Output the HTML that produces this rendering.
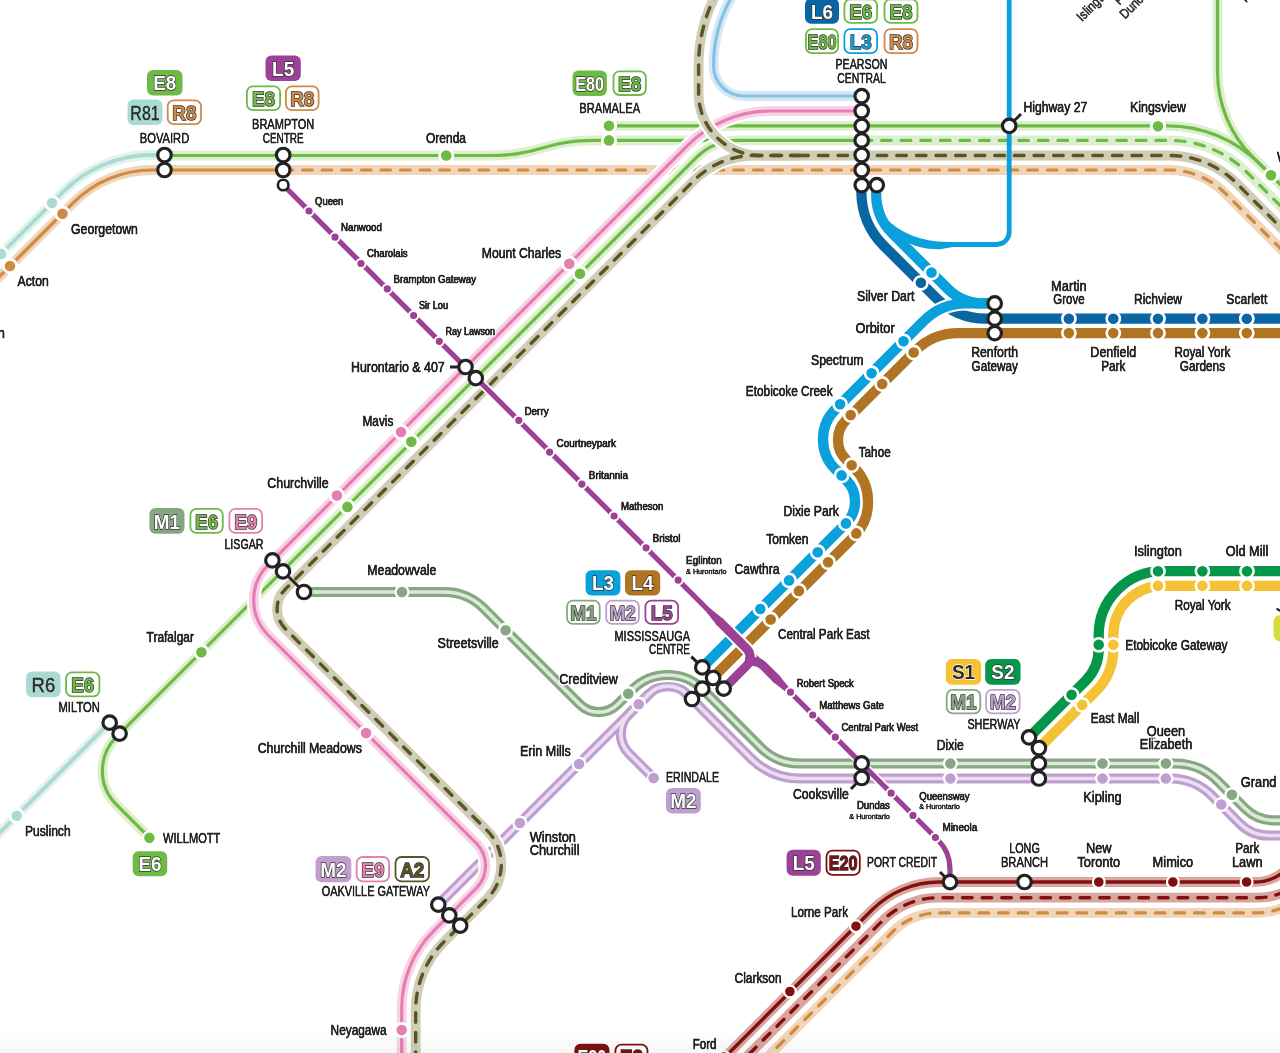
<!DOCTYPE html>
<html><head><meta charset="utf-8"><title>Transit map</title>
<style>
html,body{margin:0;padding:0;background:#fff;overflow:hidden;}
svg{display:block;will-change:transform;font-family:"Liberation Sans",sans-serif;}
</style></head><body>
<svg width="1280" height="1053" viewBox="0 0 1280 1053">
<defs><linearGradient id="bg" x1="0" y1="0" x2="0" y2="1"><stop offset="0" stop-color="#000" stop-opacity="0"/><stop offset="1" stop-color="#000" stop-opacity="0.035"/></linearGradient></defs>
<rect width="1280" height="1053" fill="#fff"/>
<g stroke-linecap="butt" stroke-linejoin="round" fill="none">
<path d="M736,-10 A137,137 0 0 0 713.6,65 L713.6,65 L713.6,66 A30,30 0 0 0 743.6,96 L862,96" stroke="#fff" stroke-width="14" fill="none"/>
<path d="M736,-10 A137,137 0 0 0 713.6,65 L713.6,65 L713.6,66 A30,30 0 0 0 743.6,96 L862,96" stroke="#d4e9f5" stroke-width="9.8" fill="none"/>
<path d="M736,-10 A137,137 0 0 0 713.6,65 L713.6,65 L713.6,66 A30,30 0 0 0 743.6,96 L862,96" stroke="#86c1e4" stroke-width="3.2" fill="none"/>
<path d="M-60,336 L73.2,202.8 A112,112 0 0 1 152.39,170 L290,170" stroke="#fff" stroke-width="14" fill="none"/>
<path d="M-60,336 L73.2,202.8 A112,112 0 0 1 152.39,170 L290,170" stroke="#f0d5b8" stroke-width="9.8" fill="none"/>
<path d="M-60,336 L73.2,202.8 A112,112 0 0 1 152.39,170 L290,170" stroke="#cf8a44" stroke-width="3.2" fill="none"/>
<path d="M283,170 L1168.86,170 A80,80 0 0 1 1225.43,193.43 L1320,288" stroke="#fff" stroke-width="14" fill="none"/>
<path d="M283,170 L1168.86,170 A80,80 0 0 1 1225.43,193.43 L1320,288" stroke="#f0d5b8" stroke-width="9.8" fill="none"/>
<path d="M283,170 L1168.86,170 A80,80 0 0 1 1225.43,193.43 L1320,288" stroke="#cf8a44" stroke-width="3.2" fill="none" stroke-dasharray="9.6 10" stroke-linecap="round"/>
<path d="M-60,315 L63.39,191.61 A125,125 0 0 1 151.78,155 L165,155" stroke="#fff" stroke-width="14" fill="none"/>
<path d="M-60,315 L63.39,191.61 A125,125 0 0 1 151.78,155 L165,155" stroke="#e2f2ee" stroke-width="9.8" fill="none"/>
<path d="M-60,315 L63.39,191.61 A125,125 0 0 1 151.78,155 L165,155" stroke="#aadbd2" stroke-width="3.8" fill="none"/>
<path d="M109.7,722.7 L-60,892.4" stroke="#fff" stroke-width="14" fill="none"/>
<path d="M109.7,722.7 L-60,892.4" stroke="#e2f2ee" stroke-width="9.8" fill="none"/>
<path d="M109.7,722.7 L-60,892.4" stroke="#aadbd2" stroke-width="3.8" fill="none"/>
<path d="M740,155.5 L1169.45,155.5 A95,95 0 0 1 1236.62,183.32 L1320,266.7" stroke="#fff" stroke-width="14" fill="none"/>
<path d="M740,155.5 L1169.45,155.5 A95,95 0 0 1 1236.62,183.32 L1320,266.7" stroke="#cecdb6" stroke-width="9.8" fill="none"/>
<path d="M740,155.5 L1169.45,155.5 A95,95 0 0 1 1236.62,183.32 L1320,266.7" stroke="#5c5425" stroke-width="3.4" fill="none" stroke-dasharray="9.6 10" stroke-linecap="round"/>
<path d="M862,140.4 L1169.44,140.4 A110,110 0 0 1 1247.22,172.62 L1320,245.4" stroke="#fff" stroke-width="14" fill="none"/>
<path d="M862,140.4 L1169.44,140.4 A110,110 0 0 1 1247.22,172.62 L1320,245.4" stroke="#dcefcf" stroke-width="9.8" fill="none"/>
<path d="M862,140.4 L1169.44,140.4 A110,110 0 0 1 1247.22,172.62 L1320,245.4" stroke="#6dbb45" stroke-width="3.2" fill="none" stroke-dasharray="9.6 10" stroke-linecap="round"/>
<path d="M165,155.5 L490,155.5 C540,155.5 545,140.4 595,140.4 L862,140.4" stroke="#fff" stroke-width="14" fill="none"/>
<path d="M165,155.5 L490,155.5 C540,155.5 545,140.4 595,140.4 L862,140.4" stroke="#dcefcf" stroke-width="9.8" fill="none"/>
<path d="M165,155.5 L490,155.5 C540,155.5 545,140.4 595,140.4 L862,140.4" stroke="#6dbb45" stroke-width="3.2" fill="none"/>
<path d="M609,125.8 L1167.85,125.8 A130,130 0 0 1 1259.78,163.88 L1320,224.1" stroke="#fff" stroke-width="14" fill="none"/>
<path d="M1217.5,-10 L1217.5,72.09 A120,120 0 0 0 1252.65,156.95 L1300,204.3" stroke="#fff" stroke-width="14" fill="none"/>
<path d="M609,125.8 L1167.85,125.8 A130,130 0 0 1 1259.78,163.88 L1320,224.1" stroke="#dcefcf" stroke-width="9.8" fill="none"/>
<path d="M1217.5,-10 L1217.5,72.09 A120,120 0 0 0 1252.65,156.95 L1300,204.3" stroke="#dcefcf" stroke-width="9.8" fill="none"/>
<path d="M609,125.8 L1167.85,125.8 A130,130 0 0 1 1259.78,163.88 L1320,224.1" stroke="#6dbb45" stroke-width="3.2" fill="none"/>
<path d="M1217.5,-10 L1217.5,72.09 A120,120 0 0 0 1252.65,156.95 L1300,204.3" stroke="#6dbb45" stroke-width="3.2" fill="none"/>
<path d="M790,140.4 L738.33,140.4 A60,60 0 0 0 695.93,157.95 L116.46,736.82 A48,48 0 0 0 116.43,804.71 L149.4,837.7" stroke="#fff" stroke-width="14" fill="none"/>
<path d="M790,140.4 L738.33,140.4 A60,60 0 0 0 695.93,157.95 L116.46,736.82 A48,48 0 0 0 116.43,804.71 L149.4,837.7" stroke="#dcefcf" stroke-width="9.8" fill="none"/>
<path d="M790,140.4 L738.33,140.4 A60,60 0 0 0 695.93,157.95 L116.46,736.82 A48,48 0 0 0 116.43,804.71 L149.4,837.7" stroke="#6dbb45" stroke-width="3.2" fill="none"/>
</g>
<g stroke-linecap="butt" stroke-linejoin="round" fill="none">
<path d="M650,693 L629.05,713.95 A28,28 0 0 0 629.05,753.55 L653.6,778.1" stroke="#fff" stroke-width="14" fill="none"/>
<path d="M438.3,904.6 L648.86,694.13 A27,27 0 0 1 687.09,694.18 L750.48,757.88 A70,70 0 0 0 800.09,778.5 L1169.95,778.5 A60,60 0 0 1 1212.37,796.07 L1240.08,823.78 A40,40 0 0 0 1268.37,835.5 L1300,835.5" stroke="#fff" stroke-width="14" fill="none"/>
<path d="M650,693 L629.05,713.95 A28,28 0 0 0 629.05,753.55 L653.6,778.1" stroke="#c09ecf" stroke-width="10.2" fill="none"/>
<path d="M438.3,904.6 L648.86,694.13 A27,27 0 0 1 687.09,694.18 L750.48,757.88 A70,70 0 0 0 800.09,778.5 L1169.95,778.5 A60,60 0 0 1 1212.37,796.07 L1240.08,823.78 A40,40 0 0 0 1268.37,835.5 L1300,835.5" stroke="#c09ecf" stroke-width="10.2" fill="none"/>
<path d="M650,693 L629.05,713.95 A28,28 0 0 0 629.05,753.55 L653.6,778.1" stroke="#eadff0" stroke-width="3.7" fill="none"/>
<path d="M438.3,904.6 L648.86,694.13 A27,27 0 0 1 687.09,694.18 L750.48,757.88 A70,70 0 0 0 800.09,778.5 L1169.95,778.5 A60,60 0 0 1 1212.37,796.07 L1240.08,823.78 A40,40 0 0 0 1268.37,835.5 L1300,835.5" stroke="#eadff0" stroke-width="3.7" fill="none"/>
<path d="M304,592 L444.2,592 A56,56 0 0 1 483.8,608.4 L579.61,704.21 A27,27 0 0 0 617.79,704.21 L632.36,689.64 A50,50 0 0 1 703.16,689.72 L760.48,747.3 A55,55 0 0 0 799.46,763.5 L1174.83,763.5 A61,61 0 0 1 1217.97,781.37 L1245.28,808.68 A40,40 0 0 0 1273.57,820.4 L1300,820.4" stroke="#fff" stroke-width="14" fill="none"/>
<path d="M304,592 L444.2,592 A56,56 0 0 1 483.8,608.4 L579.61,704.21 A27,27 0 0 0 617.79,704.21 L632.36,689.64 A50,50 0 0 1 703.16,689.72 L760.48,747.3 A55,55 0 0 0 799.46,763.5 L1174.83,763.5 A61,61 0 0 1 1217.97,781.37 L1245.28,808.68 A40,40 0 0 0 1273.57,820.4 L1300,820.4" stroke="#85a880" stroke-width="10.2" fill="none"/>
<path d="M304,592 L444.2,592 A56,56 0 0 1 483.8,608.4 L579.61,704.21 A27,27 0 0 0 617.79,704.21 L632.36,689.64 A50,50 0 0 1 703.16,689.72 L760.48,747.3 A55,55 0 0 0 799.46,763.5 L1174.83,763.5 A61,61 0 0 1 1217.97,781.37 L1245.28,808.68 A40,40 0 0 0 1273.57,820.4 L1300,820.4" stroke="#dce8d9" stroke-width="3.7" fill="none"/>
</g>
<g stroke-linecap="butt" stroke-linejoin="round" fill="none">
<path d="M862,111 L770.88,111 A118,118 0 0 0 687.44,145.56 L268.36,564.64 A50,50 0 0 0 268.36,635.36 L476.17,843.17 A32,32 0 0 1 476.17,888.43 L433.92,930.68 A110,110 0 0 0 401.7,1008.46 L401.7,1080" stroke="#fff" stroke-width="14" fill="none"/>
<path d="M862,111 L770.88,111 A118,118 0 0 0 687.44,145.56 L268.36,564.64 A50,50 0 0 0 268.36,635.36 L476.17,843.17 A32,32 0 0 1 476.17,888.43 L433.92,930.68 A110,110 0 0 0 401.7,1008.46 L401.7,1080" stroke="#f8d3e5" stroke-width="9.8" fill="none"/>
<path d="M862,111 L770.88,111 A118,118 0 0 0 687.44,145.56 L268.36,564.64 A50,50 0 0 0 268.36,635.36 L476.17,843.17 A32,32 0 0 1 476.17,888.43 L433.92,930.68 A110,110 0 0 0 401.7,1008.46 L401.7,1080" stroke="#e57fb2" stroke-width="3.2" fill="none"/>
<path d="M718.4,-10 A152,152 0 0 0 698.6,65 L698.6,65 L698.6,93.5 A62,62 0 0 0 760.6,155.5 L800,155.5" stroke="#fff" stroke-width="14" fill="none"/>
<path d="M800,155.5 L754.21,155.5 A85,85 0 0 0 694.1,180.4 L285.3,589.2 A28,28 0 0 0 285.31,628.8 L487.25,830.66 A48,48 0 0 1 487.25,898.55 L443.82,941.98 A96,96 0 0 0 415.7,1009.86 L415.7,1080" stroke="#fff" stroke-width="14" fill="none"/>
<path d="M718.4,-10 A152,152 0 0 0 698.6,65 L698.6,65 L698.6,93.5 A62,62 0 0 0 760.6,155.5 L800,155.5" stroke="#cecdb6" stroke-width="9.8" fill="none"/>
<path d="M800,155.5 L754.21,155.5 A85,85 0 0 0 694.1,180.4 L285.3,589.2 A28,28 0 0 0 285.31,628.8 L487.25,830.66 A48,48 0 0 1 487.25,898.55 L443.82,941.98 A96,96 0 0 0 415.7,1009.86 L415.7,1080" stroke="#cecdb6" stroke-width="9.8" fill="none"/>
<path d="M718.4,-10 A152,152 0 0 0 698.6,65 L698.6,65 L698.6,93.5 A62,62 0 0 0 760.6,155.5 L800,155.5" stroke="#5c5425" stroke-width="3.4" fill="none" stroke-dasharray="9.6 10" stroke-linecap="round"/>
<path d="M800,155.5 L754.21,155.5 A85,85 0 0 0 694.1,180.4 L285.3,589.2 A28,28 0 0 0 285.31,628.8 L487.25,830.66 A48,48 0 0 1 487.25,898.55 L443.82,941.98 A96,96 0 0 0 415.7,1009.86 L415.7,1080" stroke="#5c5425" stroke-width="3.4" fill="none" stroke-dasharray="9.6 10" stroke-linecap="round"/>
<path d="M680,1102 L872.18,909.82 A95,95 0 0 1 939.35,882 L1254.96,882 A45,45 0 0 0 1286.78,868.82 L1330,825.6" stroke="#fff" stroke-width="14" fill="none"/>
<path d="M680,1102 L872.18,909.82 A95,95 0 0 1 939.35,882 L1254.96,882 A45,45 0 0 0 1286.78,868.82 L1330,825.6" stroke="#d9a69e" stroke-width="9.8" fill="none"/>
<path d="M680,1102 L872.18,909.82 A95,95 0 0 1 939.35,882 L1254.96,882 A45,45 0 0 0 1286.78,868.82 L1330,825.6" stroke="#80100f" stroke-width="3.4" fill="none"/>
<path d="M680,1123.2 L882.07,921.13 A80,80 0 0 1 938.64,897.7 L1257.95,897.7 A60,60 0 0 0 1300.37,880.13 L1345,835.5" stroke="#fff" stroke-width="14" fill="none"/>
<path d="M680,1123.2 L882.07,921.13 A80,80 0 0 1 938.64,897.7 L1257.95,897.7 A60,60 0 0 0 1300.37,880.13 L1345,835.5" stroke="#d9a69e" stroke-width="9.8" fill="none"/>
<path d="M680,1123.2 L882.07,921.13 A80,80 0 0 1 938.64,897.7 L1257.95,897.7 A60,60 0 0 0 1300.37,880.13 L1345,835.5" stroke="#80100f" stroke-width="3.4" fill="none" stroke-dasharray="9.6 10" stroke-linecap="round"/>
<path d="M680,1144.4 L892.46,931.94 A65,65 0 0 1 938.42,912.9 L1255.53,912.9 A75,75 0 0 0 1308.57,890.93 L1360,839.5" stroke="#fff" stroke-width="14" fill="none"/>
<path d="M680,1144.4 L892.46,931.94 A65,65 0 0 1 938.42,912.9 L1255.53,912.9 A75,75 0 0 0 1308.57,890.93 L1360,839.5" stroke="#f0d5b8" stroke-width="9.8" fill="none"/>
<path d="M680,1144.4 L892.46,931.94 A65,65 0 0 1 938.42,912.9 L1255.53,912.9 A75,75 0 0 0 1308.57,890.93 L1360,839.5" stroke="#cf8a44" stroke-width="3.2" fill="none" stroke-dasharray="9.6 10" stroke-linecap="round"/>
</g>
<g stroke-linecap="butt" stroke-linejoin="round" fill="none">
<path d="M861.4,185.4 L861.4,192.23 A75,75 0 0 0 883.37,245.27 L936.3,298.2 A70,70 0 0 0 985.79,318.7 L1300,318.7" stroke="#0a66a2" stroke-width="10.3" fill="none"/>
<path d="M1300,333.1 L957.95,333.1 A60,60 0 0 0 915.53,350.67 L845.91,420.29 A27,27 0 0 0 838,439.38 L838,440.32 A27,27 0 0 0 845.91,459.41 L853.94,467.44 A48,48 0 0 1 868,501.38 L868,502.62 A48,48 0 0 1 853.94,536.56 L713.1,677.4" stroke="#fff" stroke-width="14.3" fill="none"/>
<path d="M1300,333.1 L957.95,333.1 A60,60 0 0 0 915.53,350.67 L845.91,420.29 A27,27 0 0 0 838,439.38 L838,440.32 A27,27 0 0 0 845.91,459.41 L853.94,467.44 A48,48 0 0 1 868,501.38 L868,502.62 A48,48 0 0 1 853.94,536.56 L713.1,677.4" stroke="#b07422" stroke-width="10.3" fill="none"/>
<path d="M876.2,185.4 L876.2,194.52 A55,55 0 0 0 892.31,233.41 L947.66,288.76 A50,50 0 0 0 983.01,303.4 L994.7,303.4" stroke="#fff" stroke-width="14.3" fill="none"/>
<path d="M994.7,303.4 L966.25,303.4 A60,60 0 0 0 923.83,320.97 L835.3,409.5 A42,42 0 0 0 823,439.2 L823,439.4 A42,42 0 0 0 835.3,469.1 L846.21,480.01 A30,30 0 0 1 855,501.23 L855,501.9 A30,30 0 0 1 846.24,523.08 L702.3,667.4" stroke="#fff" stroke-width="14.3" fill="none"/>
<path d="M1009.2,-10 L1009.2,232 A12.6,12.6 0 0 1 996.6,244.5 L950,244.5" stroke="#0aa0dc" stroke-width="4.8" fill="none"/>
<path d="M953,242.1 C925,242.1 905,236 886,219 L900,238 C912,247 928,249.5 940,249.2 L953,246.9 Z" fill="#0aa0dc" stroke="none"/>
<path d="M876.2,185.4 L876.2,194.52 A55,55 0 0 0 892.31,233.41 L947.66,288.76 A50,50 0 0 0 983.01,303.4 L994.7,303.4" stroke="#0aa0dc" stroke-width="10.3" fill="none"/>
<path d="M994.7,303.4 L966.25,303.4 A60,60 0 0 0 923.83,320.97 L835.3,409.5 A42,42 0 0 0 823,439.2 L823,439.4 A42,42 0 0 0 835.3,469.1 L846.21,480.01 A30,30 0 0 1 855,501.23 L855,501.9 A30,30 0 0 1 846.24,523.08 L702.3,667.4" stroke="#0aa0dc" stroke-width="10.3" fill="none"/>
<path d="M283.2,185 L938,839.99 A41,41 0 0 1 950,868.98 L950,882" stroke="#fff" stroke-width="8.5" fill="none"/>
<path d="M283.2,185 L938,839.99 A41,41 0 0 1 950,868.98 L950,882" stroke="#9b4196" stroke-width="5.2" fill="none"/>
<path d="M719,621 L746.71,648.71 A12,12 0 0 1 746.71,665.69 L723.7,688.7" stroke="#fff" stroke-width="13" fill="none"/>
<path d="M719,621 L746.71,648.71 A12,12 0 0 1 746.71,665.69 L723.7,688.7" stroke="#9b4196" stroke-width="9" fill="none"/>
<path d="M745,661.5 L753.2,661.5 A14,14 0 0 1 763.1,665.6 L777,679.5" stroke="#9b4196" stroke-width="9" fill="none"/>
<path d="M706.16,611.84 L716.82,625.18 L723.18,618.82 L709.84,608.16 Z" fill="#9b4196"/>
<path d="M772.82,681.68 L786.16,692.34 L789.84,688.66 L779.18,675.32 Z" fill="#9b4196"/>
<path d="M1029,737.3 L1085.5,680.88 A45,45 0 0 0 1098.7,649.04 L1098.7,635.2 A64,64 0 0 1 1162.7,571.2 L1300,571.2" stroke="#fff" stroke-width="14.3" fill="none"/>
<path d="M1029,737.3 L1085.5,680.88 A45,45 0 0 0 1098.7,649.04 L1098.7,635.2 A64,64 0 0 1 1162.7,571.2 L1300,571.2" stroke="#05964a" stroke-width="10.3" fill="none"/>
<path d="M1038.9,748 L1095.67,691.38 A60,60 0 0 0 1113.3,648.9 L1113.3,634.8 A49,49 0 0 1 1162.3,585.8 L1300,585.8" stroke="#fff" stroke-width="14.3" fill="none"/>
<path d="M1038.9,748 L1095.67,691.38 A60,60 0 0 0 1113.3,648.9 L1113.3,634.8 A49,49 0 0 1 1162.3,585.8 L1300,585.8" stroke="#f5c235" stroke-width="10.3" fill="none"/>
</g>
<circle cx="52" cy="203" r="6.7" fill="#aadbd2" stroke="#fff" stroke-width="2.8"/>
<circle cx="1" cy="254" r="6.7" fill="#aadbd2" stroke="#fff" stroke-width="2.8"/>
<circle cx="16.7" cy="815.7" r="6.7" fill="#aadbd2" stroke="#fff" stroke-width="2.8"/>
<circle cx="62.5" cy="213.75" r="6.7" fill="#cf8a44" stroke="#fff" stroke-width="2.8"/>
<circle cx="10" cy="266" r="6.7" fill="#cf8a44" stroke="#fff" stroke-width="2.8"/>
<circle cx="446.25" cy="155.5" r="6.7" fill="#6dbb45" stroke="#fff" stroke-width="2.8"/>
<circle cx="609" cy="125.8" r="6.7" fill="#6dbb45" stroke="#fff" stroke-width="2.8"/>
<circle cx="609" cy="140.4" r="6.7" fill="#6dbb45" stroke="#fff" stroke-width="2.8"/>
<circle cx="580" cy="273.75" r="6.7" fill="#6dbb45" stroke="#fff" stroke-width="2.8"/>
<circle cx="411.3" cy="441.8" r="6.7" fill="#6dbb45" stroke="#fff" stroke-width="2.8"/>
<circle cx="347.4" cy="506.9" r="6.7" fill="#6dbb45" stroke="#fff" stroke-width="2.8"/>
<circle cx="201.4" cy="652.2" r="6.7" fill="#6dbb45" stroke="#fff" stroke-width="2.8"/>
<circle cx="1158" cy="126.2" r="6.7" fill="#6dbb45" stroke="#fff" stroke-width="2.8"/>
<circle cx="1271" cy="175.3" r="6.7" fill="#6dbb45" stroke="#fff" stroke-width="2.8"/>
<circle cx="149.4" cy="837.7" r="6.2" fill="#6dbb45" stroke="#fff" stroke-width="2"/>
<circle cx="569.25" cy="263.75" r="6.7" fill="#e57fb2" stroke="#fff" stroke-width="2.8"/>
<circle cx="401" cy="432" r="6.7" fill="#e57fb2" stroke="#fff" stroke-width="2.8"/>
<circle cx="336.9" cy="495.6" r="6.7" fill="#e57fb2" stroke="#fff" stroke-width="2.8"/>
<circle cx="366.1" cy="733" r="6.7" fill="#e57fb2" stroke="#fff" stroke-width="2.8"/>
<circle cx="401.7" cy="1030.1" r="6.7" fill="#e57fb2" stroke="#fff" stroke-width="2.8"/>
<circle cx="309" cy="211" r="4.6" fill="#9b4196" stroke="#fff" stroke-width="2"/>
<circle cx="335" cy="237.2" r="4.6" fill="#9b4196" stroke="#fff" stroke-width="2"/>
<circle cx="361" cy="263.5" r="4.6" fill="#9b4196" stroke="#fff" stroke-width="2"/>
<circle cx="387.3" cy="288.8" r="4.6" fill="#9b4196" stroke="#fff" stroke-width="2"/>
<circle cx="413.6" cy="315.5" r="4.6" fill="#9b4196" stroke="#fff" stroke-width="2"/>
<circle cx="439.3" cy="341.3" r="4.6" fill="#9b4196" stroke="#fff" stroke-width="2"/>
<circle cx="518.8" cy="420.3" r="4.6" fill="#9b4196" stroke="#fff" stroke-width="2"/>
<circle cx="549.6" cy="452.1" r="4.6" fill="#9b4196" stroke="#fff" stroke-width="2"/>
<circle cx="581.9" cy="484.1" r="4.6" fill="#9b4196" stroke="#fff" stroke-width="2"/>
<circle cx="614.1" cy="516" r="4.6" fill="#9b4196" stroke="#fff" stroke-width="2"/>
<circle cx="646.1" cy="547.8" r="4.6" fill="#9b4196" stroke="#fff" stroke-width="2"/>
<circle cx="678.2" cy="580.1" r="4.6" fill="#9b4196" stroke="#fff" stroke-width="2"/>
<circle cx="790.5" cy="692.2" r="4.6" fill="#9b4196" stroke="#fff" stroke-width="2"/>
<circle cx="812.7" cy="715" r="4.6" fill="#9b4196" stroke="#fff" stroke-width="2"/>
<circle cx="835.3" cy="737.2" r="4.6" fill="#9b4196" stroke="#fff" stroke-width="2"/>
<circle cx="891.1" cy="793.2" r="4.6" fill="#9b4196" stroke="#fff" stroke-width="2"/>
<circle cx="913" cy="815.4" r="4.6" fill="#9b4196" stroke="#fff" stroke-width="2"/>
<circle cx="935.4" cy="837.5" r="4.6" fill="#9b4196" stroke="#fff" stroke-width="2"/>
<circle cx="931.5" cy="272.6" r="6.6" fill="#0aa0dc" stroke="#fff" stroke-width="2.6"/>
<circle cx="903.5" cy="341.3" r="6.6" fill="#0aa0dc" stroke="#fff" stroke-width="2.6"/>
<circle cx="871.6" cy="373.2" r="6.6" fill="#0aa0dc" stroke="#fff" stroke-width="2.6"/>
<circle cx="840.1" cy="404.3" r="6.6" fill="#0aa0dc" stroke="#fff" stroke-width="2.6"/>
<circle cx="841.6" cy="475.4" r="6.6" fill="#0aa0dc" stroke="#fff" stroke-width="2.6"/>
<circle cx="845.9" cy="523.4" r="6.6" fill="#0aa0dc" stroke="#fff" stroke-width="2.6"/>
<circle cx="817.7" cy="552.2" r="6.6" fill="#0aa0dc" stroke="#fff" stroke-width="2.6"/>
<circle cx="789.1" cy="580.4" r="6.6" fill="#0aa0dc" stroke="#fff" stroke-width="2.6"/>
<circle cx="760.3" cy="609" r="6.6" fill="#0aa0dc" stroke="#fff" stroke-width="2.6"/>
<circle cx="913.7" cy="352.5" r="6.6" fill="#b07422" stroke="#fff" stroke-width="2.6"/>
<circle cx="882.2" cy="384" r="6.6" fill="#b07422" stroke="#fff" stroke-width="2.6"/>
<circle cx="850.7" cy="415" r="6.6" fill="#b07422" stroke="#fff" stroke-width="2.6"/>
<circle cx="851.7" cy="465.2" r="6.6" fill="#b07422" stroke="#fff" stroke-width="2.6"/>
<circle cx="856.3" cy="533.4" r="6.6" fill="#b07422" stroke="#fff" stroke-width="2.6"/>
<circle cx="828.1" cy="562.2" r="6.6" fill="#b07422" stroke="#fff" stroke-width="2.6"/>
<circle cx="798.9" cy="590.9" r="6.6" fill="#b07422" stroke="#fff" stroke-width="2.6"/>
<circle cx="770.7" cy="619.5" r="6.6" fill="#b07422" stroke="#fff" stroke-width="2.6"/>
<circle cx="1068.9" cy="318.7" r="6.6" fill="#0a66a2" stroke="#fff" stroke-width="2.6"/>
<circle cx="1068.9" cy="333.1" r="6.6" fill="#b07422" stroke="#fff" stroke-width="2.6"/>
<circle cx="1113.3" cy="318.7" r="6.6" fill="#0a66a2" stroke="#fff" stroke-width="2.6"/>
<circle cx="1113.3" cy="333.1" r="6.6" fill="#b07422" stroke="#fff" stroke-width="2.6"/>
<circle cx="1158" cy="318.7" r="6.6" fill="#0a66a2" stroke="#fff" stroke-width="2.6"/>
<circle cx="1158" cy="333.1" r="6.6" fill="#b07422" stroke="#fff" stroke-width="2.6"/>
<circle cx="1202.4" cy="318.7" r="6.6" fill="#0a66a2" stroke="#fff" stroke-width="2.6"/>
<circle cx="1202.4" cy="333.1" r="6.6" fill="#b07422" stroke="#fff" stroke-width="2.6"/>
<circle cx="1246.8" cy="318.7" r="6.6" fill="#0a66a2" stroke="#fff" stroke-width="2.6"/>
<circle cx="1246.8" cy="333.1" r="6.6" fill="#b07422" stroke="#fff" stroke-width="2.6"/>
<circle cx="920.9" cy="282.8" r="6.6" fill="#0a66a2" stroke="#fff" stroke-width="2.6"/>
<circle cx="402" cy="592" r="6.45" fill="#85a880" stroke="#fff" stroke-width="2.3"/>
<circle cx="505.6" cy="630.2" r="6.45" fill="#85a880" stroke="#fff" stroke-width="2.3"/>
<circle cx="628.3" cy="693.7" r="6.45" fill="#85a880" stroke="#fff" stroke-width="2.3"/>
<circle cx="950.4" cy="763.5" r="6.45" fill="#85a880" stroke="#fff" stroke-width="2.3"/>
<circle cx="1102.5" cy="763.5" r="6.45" fill="#85a880" stroke="#fff" stroke-width="2.3"/>
<circle cx="1165.9" cy="763.5" r="6.45" fill="#85a880" stroke="#fff" stroke-width="2.3"/>
<circle cx="1231.9" cy="794.8" r="6.45" fill="#85a880" stroke="#fff" stroke-width="2.3"/>
<circle cx="638.7" cy="704.2" r="6.45" fill="#c09ecf" stroke="#fff" stroke-width="2.3"/>
<circle cx="579.1" cy="764" r="6.45" fill="#c09ecf" stroke="#fff" stroke-width="2.3"/>
<circle cx="519.9" cy="823" r="6.45" fill="#c09ecf" stroke="#fff" stroke-width="2.3"/>
<circle cx="950.4" cy="778.5" r="6.45" fill="#c09ecf" stroke="#fff" stroke-width="2.3"/>
<circle cx="1102.5" cy="778.5" r="6.45" fill="#c09ecf" stroke="#fff" stroke-width="2.3"/>
<circle cx="1165.9" cy="778.5" r="6.45" fill="#c09ecf" stroke="#fff" stroke-width="2.3"/>
<circle cx="1221.3" cy="804.5" r="6.45" fill="#c09ecf" stroke="#fff" stroke-width="2.3"/>
<circle cx="653.6" cy="778.1" r="6.05" fill="#c09ecf" stroke="#fff" stroke-width="1.5"/>
<circle cx="1071.6" cy="694.8" r="6.6" fill="#05964a" stroke="#fff" stroke-width="2.6"/>
<circle cx="1098.7" cy="644.8" r="6.6" fill="#05964a" stroke="#fff" stroke-width="2.6"/>
<circle cx="1158" cy="571.2" r="6.6" fill="#05964a" stroke="#fff" stroke-width="2.6"/>
<circle cx="1202.4" cy="571.2" r="6.6" fill="#05964a" stroke="#fff" stroke-width="2.6"/>
<circle cx="1247" cy="571.2" r="6.6" fill="#05964a" stroke="#fff" stroke-width="2.6"/>
<circle cx="1082.2" cy="704.9" r="6.6" fill="#f5c235" stroke="#fff" stroke-width="2.6"/>
<circle cx="1113.3" cy="644.8" r="6.6" fill="#f5c235" stroke="#fff" stroke-width="2.6"/>
<circle cx="1158" cy="585.8" r="6.6" fill="#f5c235" stroke="#fff" stroke-width="2.6"/>
<circle cx="1202.4" cy="585.8" r="6.6" fill="#f5c235" stroke="#fff" stroke-width="2.6"/>
<circle cx="1247" cy="585.8" r="6.6" fill="#f5c235" stroke="#fff" stroke-width="2.6"/>
<circle cx="856" cy="926.2" r="5.9" fill="#80100f" stroke="#fff" stroke-width="2.2"/>
<circle cx="789.9" cy="991.5" r="5.9" fill="#80100f" stroke="#fff" stroke-width="2.2"/>
<circle cx="1098.8" cy="882" r="5.9" fill="#80100f" stroke="#fff" stroke-width="2.2"/>
<circle cx="1172.9" cy="882" r="5.9" fill="#80100f" stroke="#fff" stroke-width="2.2"/>
<circle cx="1246.6" cy="882" r="5.9" fill="#80100f" stroke="#fff" stroke-width="2.2"/>
<circle cx="724" cy="1057" r="5.9" fill="#80100f" stroke="#fff" stroke-width="2.2"/>
<circle cx="164.5" cy="155" r="6.75" fill="#fff" stroke="#222222" stroke-width="3.2"/>
<circle cx="164.5" cy="170" r="6.75" fill="#fff" stroke="#222222" stroke-width="3.2"/>
<circle cx="283.2" cy="155" r="6.75" fill="#fff" stroke="#222222" stroke-width="3.2"/>
<circle cx="283.2" cy="170" r="6.75" fill="#fff" stroke="#222222" stroke-width="3.2"/>
<circle cx="283.2" cy="185" r="5.3" fill="#fff" stroke="#222222" stroke-width="2.6"/>
<circle cx="861.7" cy="96.1" r="6.75" fill="#fff" stroke="#222222" stroke-width="3.2"/>
<circle cx="861.7" cy="111" r="6.75" fill="#fff" stroke="#222222" stroke-width="3.2"/>
<circle cx="861.7" cy="125.8" r="6.75" fill="#fff" stroke="#222222" stroke-width="3.2"/>
<circle cx="861.7" cy="140.4" r="6.75" fill="#fff" stroke="#222222" stroke-width="3.2"/>
<circle cx="861.7" cy="155" r="6.75" fill="#fff" stroke="#222222" stroke-width="3.2"/>
<circle cx="861.7" cy="170" r="6.75" fill="#fff" stroke="#222222" stroke-width="3.2"/>
<circle cx="861.7" cy="185.1" r="6.75" fill="#fff" stroke="#222222" stroke-width="3.2"/>
<circle cx="876.8" cy="185.1" r="6.75" fill="#fff" stroke="#222222" stroke-width="3.2"/>
<path d="M1009.2,125.8 L1021,114" stroke="#222222" stroke-width="3"/>
<circle cx="1009.2" cy="125.8" r="6.75" fill="#fff" stroke="#222222" stroke-width="3.2"/>
<path d="M450,367 L465.5,367" stroke="#222222" stroke-width="3"/>
<circle cx="465.5" cy="367" r="6.75" fill="#fff" stroke="#222222" stroke-width="3.2"/>
<circle cx="475.8" cy="378.2" r="6.75" fill="#fff" stroke="#222222" stroke-width="3.2"/>
<path d="M283,571.3 L304,592" stroke="#222222" stroke-width="2.6"/>
<circle cx="272.4" cy="560.3" r="6.75" fill="#fff" stroke="#222222" stroke-width="3.2"/>
<circle cx="283" cy="571.3" r="6.75" fill="#fff" stroke="#222222" stroke-width="3.2"/>
<circle cx="304" cy="592" r="6.75" fill="#fff" stroke="#222222" stroke-width="3.2"/>
<circle cx="109.7" cy="722.7" r="6.75" fill="#fff" stroke="#222222" stroke-width="3.2"/>
<circle cx="119.6" cy="733.6" r="6.75" fill="#fff" stroke="#222222" stroke-width="3.2"/>
<circle cx="438.3" cy="904.6" r="6.75" fill="#fff" stroke="#222222" stroke-width="3.2"/>
<circle cx="449.3" cy="915.3" r="6.75" fill="#fff" stroke="#222222" stroke-width="3.2"/>
<circle cx="460.2" cy="925.6" r="6.75" fill="#fff" stroke="#222222" stroke-width="3.2"/>
<path d="M691.3,656.7 L702.3,667.4" stroke="#222222" stroke-width="3"/>
<circle cx="702.3" cy="667.4" r="6.75" fill="#fff" stroke="#222222" stroke-width="3.2"/>
<circle cx="713.1" cy="678" r="6.75" fill="#fff" stroke="#222222" stroke-width="3.2"/>
<circle cx="702.3" cy="688.7" r="6.75" fill="#fff" stroke="#222222" stroke-width="3.2"/>
<circle cx="723.7" cy="688.7" r="6.75" fill="#fff" stroke="#222222" stroke-width="3.2"/>
<circle cx="692" cy="699" r="6.75" fill="#fff" stroke="#222222" stroke-width="3.2"/>
<path d="M851,789 L861.7,778" stroke="#222222" stroke-width="3"/>
<circle cx="861.7" cy="763.4" r="6.75" fill="#fff" stroke="#222222" stroke-width="3.2"/>
<circle cx="861.7" cy="778" r="6.75" fill="#fff" stroke="#222222" stroke-width="3.2"/>
<circle cx="1029" cy="737.3" r="6.75" fill="#fff" stroke="#222222" stroke-width="3.2"/>
<circle cx="1038.9" cy="748" r="6.75" fill="#fff" stroke="#222222" stroke-width="3.2"/>
<circle cx="1038.9" cy="763.4" r="6.75" fill="#fff" stroke="#222222" stroke-width="3.2"/>
<circle cx="1038.9" cy="778.5" r="6.75" fill="#fff" stroke="#222222" stroke-width="3.2"/>
<circle cx="994.7" cy="303.4" r="6.75" fill="#fff" stroke="#222222" stroke-width="3.2"/>
<circle cx="994.7" cy="318.7" r="6.75" fill="#fff" stroke="#222222" stroke-width="3.2"/>
<circle cx="994.7" cy="333.1" r="6.75" fill="#fff" stroke="#222222" stroke-width="3.2"/>
<path d="M940,872 L950,882" stroke="#222222" stroke-width="3"/>
<circle cx="950" cy="882.1" r="6.75" fill="#fff" stroke="#222222" stroke-width="3.2"/>
<circle cx="1024.5" cy="882" r="6.75" fill="#fff" stroke="#222222" stroke-width="3.2"/>
<text transform="translate(71,233.8) scale(0.8200,1)" font-size="15" text-anchor="start" font-weight="normal" fill="#222222" stroke="#fff" stroke-width="3" paint-order="stroke" stroke-linejoin="round">Georgetown</text>
<text transform="translate(71,233.8) scale(0.8200,1)" font-size="15" text-anchor="start" font-weight="normal" fill="#222222" stroke="#222222" stroke-width="0.5">Georgetown</text>
<text transform="translate(17.5,286) scale(0.8147,1)" font-size="15" text-anchor="start" font-weight="normal" fill="#222222" stroke="#fff" stroke-width="3" paint-order="stroke" stroke-linejoin="round">Acton</text>
<text transform="translate(17.5,286) scale(0.8147,1)" font-size="15" text-anchor="start" font-weight="normal" fill="#222222" stroke="#222222" stroke-width="0.5">Acton</text>
<text transform="translate(5,338) scale(0.8550,1)" font-size="15" text-anchor="end" font-weight="normal" fill="#222222" stroke="#fff" stroke-width="3" paint-order="stroke" stroke-linejoin="round">Guelph</text>
<text transform="translate(5,338) scale(0.8550,1)" font-size="15" text-anchor="end" font-weight="normal" fill="#222222" stroke="#222222" stroke-width="0.5">Guelph</text>
<text transform="translate(426,142.5) scale(0.7996,1)" font-size="15" text-anchor="start" font-weight="normal" fill="#222222" stroke="#fff" stroke-width="3" paint-order="stroke" stroke-linejoin="round">Orenda</text>
<text transform="translate(426,142.5) scale(0.7996,1)" font-size="15" text-anchor="start" font-weight="normal" fill="#222222" stroke="#222222" stroke-width="0.5">Orenda</text>
<text transform="translate(481.8,258) scale(0.8130,1)" font-size="15" text-anchor="start" font-weight="normal" fill="#222222" stroke="#fff" stroke-width="3" paint-order="stroke" stroke-linejoin="round">Mount Charles</text>
<text transform="translate(481.8,258) scale(0.8130,1)" font-size="15" text-anchor="start" font-weight="normal" fill="#222222" stroke="#222222" stroke-width="0.5">Mount Charles</text>
<text transform="translate(351,372) scale(0.8991,1)" font-size="13.8" text-anchor="start" font-weight="normal" fill="#222222" stroke="#fff" stroke-width="3" paint-order="stroke" stroke-linejoin="round">Hurontario &amp; 407</text>
<text transform="translate(351,372) scale(0.8991,1)" font-size="13.8" text-anchor="start" font-weight="normal" fill="#222222" stroke="#222222" stroke-width="0.5">Hurontario &amp; 407</text>
<text transform="translate(362.5,425.5) scale(0.7889,1)" font-size="15" text-anchor="start" font-weight="normal" fill="#222222" stroke="#fff" stroke-width="3" paint-order="stroke" stroke-linejoin="round">Mavis</text>
<text transform="translate(362.5,425.5) scale(0.7889,1)" font-size="15" text-anchor="start" font-weight="normal" fill="#222222" stroke="#222222" stroke-width="0.5">Mavis</text>
<text transform="translate(267.3,488) scale(0.8276,1)" font-size="15" text-anchor="start" font-weight="normal" fill="#222222" stroke="#fff" stroke-width="3" paint-order="stroke" stroke-linejoin="round">Churchville</text>
<text transform="translate(267.3,488) scale(0.8276,1)" font-size="15" text-anchor="start" font-weight="normal" fill="#222222" stroke="#222222" stroke-width="0.5">Churchville</text>
<text transform="translate(367.3,575.3) scale(0.8218,1)" font-size="15" text-anchor="start" font-weight="normal" fill="#222222" stroke="#fff" stroke-width="3" paint-order="stroke" stroke-linejoin="round">Meadowvale</text>
<text transform="translate(367.3,575.3) scale(0.8218,1)" font-size="15" text-anchor="start" font-weight="normal" fill="#222222" stroke="#222222" stroke-width="0.5">Meadowvale</text>
<text transform="translate(146.6,642.3) scale(0.7955,1)" font-size="15" text-anchor="start" font-weight="normal" fill="#222222" stroke="#fff" stroke-width="3" paint-order="stroke" stroke-linejoin="round">Trafalgar</text>
<text transform="translate(146.6,642.3) scale(0.7955,1)" font-size="15" text-anchor="start" font-weight="normal" fill="#222222" stroke="#222222" stroke-width="0.5">Trafalgar</text>
<text transform="translate(25,835.6) scale(0.8043,1)" font-size="15" text-anchor="start" font-weight="normal" fill="#222222" stroke="#fff" stroke-width="3" paint-order="stroke" stroke-linejoin="round">Puslinch</text>
<text transform="translate(25,835.6) scale(0.8043,1)" font-size="15" text-anchor="start" font-weight="normal" fill="#222222" stroke="#222222" stroke-width="0.5">Puslinch</text>
<text transform="translate(257.7,752.7) scale(0.8231,1)" font-size="15" text-anchor="start" font-weight="normal" fill="#222222" stroke="#fff" stroke-width="3" paint-order="stroke" stroke-linejoin="round">Churchill Meadows</text>
<text transform="translate(257.7,752.7) scale(0.8231,1)" font-size="15" text-anchor="start" font-weight="normal" fill="#222222" stroke="#222222" stroke-width="0.5">Churchill Meadows</text>
<text transform="translate(330.6,1035) scale(0.7901,1)" font-size="15" text-anchor="start" font-weight="normal" fill="#222222" stroke="#fff" stroke-width="3" paint-order="stroke" stroke-linejoin="round">Neyagawa</text>
<text transform="translate(330.6,1035) scale(0.7901,1)" font-size="15" text-anchor="start" font-weight="normal" fill="#222222" stroke="#222222" stroke-width="0.5">Neyagawa</text>
<text transform="translate(437.6,647.7) scale(0.8329,1)" font-size="15" text-anchor="start" font-weight="normal" fill="#222222" stroke="#fff" stroke-width="3" paint-order="stroke" stroke-linejoin="round">Streetsville</text>
<text transform="translate(437.6,647.7) scale(0.8329,1)" font-size="15" text-anchor="start" font-weight="normal" fill="#222222" stroke="#222222" stroke-width="0.5">Streetsville</text>
<text transform="translate(559.2,683.8) scale(0.8384,1)" font-size="15" text-anchor="start" font-weight="normal" fill="#222222" stroke="#fff" stroke-width="3" paint-order="stroke" stroke-linejoin="round">Creditview</text>
<text transform="translate(559.2,683.8) scale(0.8384,1)" font-size="15" text-anchor="start" font-weight="normal" fill="#222222" stroke="#222222" stroke-width="0.5">Creditview</text>
<text transform="translate(520,755.9) scale(0.8351,1)" font-size="15" text-anchor="start" font-weight="normal" fill="#222222" stroke="#fff" stroke-width="3" paint-order="stroke" stroke-linejoin="round">Erin Mills</text>
<text transform="translate(520,755.9) scale(0.8351,1)" font-size="15" text-anchor="start" font-weight="normal" fill="#222222" stroke="#222222" stroke-width="0.5">Erin Mills</text>
<text transform="translate(529.7,841.9) scale(0.8550,1)" font-size="15" text-anchor="start" font-weight="normal" fill="#222222" stroke="#fff" stroke-width="3" paint-order="stroke" stroke-linejoin="round">Winston</text>
<text transform="translate(529.7,841.9) scale(0.8550,1)" font-size="15" text-anchor="start" font-weight="normal" fill="#222222" stroke="#222222" stroke-width="0.5">Winston</text>
<text transform="translate(529.7,855.3) scale(0.8550,1)" font-size="15" text-anchor="start" font-weight="normal" fill="#222222" stroke="#fff" stroke-width="3" paint-order="stroke" stroke-linejoin="round">Churchill</text>
<text transform="translate(529.7,855.3) scale(0.8550,1)" font-size="15" text-anchor="start" font-weight="normal" fill="#222222" stroke="#222222" stroke-width="0.5">Churchill</text>
<text transform="translate(1023.4,111.6) scale(0.8153,1)" font-size="15" text-anchor="start" font-weight="normal" fill="#222222" stroke="#fff" stroke-width="3" paint-order="stroke" stroke-linejoin="round">Highway 27</text>
<text transform="translate(1023.4,111.6) scale(0.8153,1)" font-size="15" text-anchor="start" font-weight="normal" fill="#222222" stroke="#222222" stroke-width="0.5">Highway 27</text>
<text transform="translate(1130,111.6) scale(0.8293,1)" font-size="15" text-anchor="start" font-weight="normal" fill="#222222" stroke="#fff" stroke-width="3" paint-order="stroke" stroke-linejoin="round">Kingsview</text>
<text transform="translate(1130,111.6) scale(0.8293,1)" font-size="15" text-anchor="start" font-weight="normal" fill="#222222" stroke="#222222" stroke-width="0.5">Kingsview</text>
<text transform="translate(857,300.5) scale(0.8213,1)" font-size="15" text-anchor="start" font-weight="normal" fill="#222222" stroke="#fff" stroke-width="3" paint-order="stroke" stroke-linejoin="round">Silver Dart</text>
<text transform="translate(857,300.5) scale(0.8213,1)" font-size="15" text-anchor="start" font-weight="normal" fill="#222222" stroke="#222222" stroke-width="0.5">Silver Dart</text>
<text transform="translate(855.5,333.4) scale(0.8552,1)" font-size="15" text-anchor="start" font-weight="normal" fill="#222222" stroke="#fff" stroke-width="3" paint-order="stroke" stroke-linejoin="round">Orbitor</text>
<text transform="translate(855.5,333.4) scale(0.8552,1)" font-size="15" text-anchor="start" font-weight="normal" fill="#222222" stroke="#222222" stroke-width="0.5">Orbitor</text>
<text transform="translate(811,364.8) scale(0.8164,1)" font-size="15" text-anchor="start" font-weight="normal" fill="#222222" stroke="#fff" stroke-width="3" paint-order="stroke" stroke-linejoin="round">Spectrum</text>
<text transform="translate(811,364.8) scale(0.8164,1)" font-size="15" text-anchor="start" font-weight="normal" fill="#222222" stroke="#222222" stroke-width="0.5">Spectrum</text>
<text transform="translate(745.8,396.1) scale(0.7897,1)" font-size="15" text-anchor="start" font-weight="normal" fill="#222222" stroke="#fff" stroke-width="3" paint-order="stroke" stroke-linejoin="round">Etobicoke Creek</text>
<text transform="translate(745.8,396.1) scale(0.7897,1)" font-size="15" text-anchor="start" font-weight="normal" fill="#222222" stroke="#222222" stroke-width="0.5">Etobicoke Creek</text>
<text transform="translate(858.7,457.3) scale(0.7831,1)" font-size="15" text-anchor="start" font-weight="normal" fill="#222222" stroke="#fff" stroke-width="3" paint-order="stroke" stroke-linejoin="round">Tahoe</text>
<text transform="translate(858.7,457.3) scale(0.7831,1)" font-size="15" text-anchor="start" font-weight="normal" fill="#222222" stroke="#222222" stroke-width="0.5">Tahoe</text>
<text transform="translate(783.4,515.9) scale(0.8135,1)" font-size="15" text-anchor="start" font-weight="normal" fill="#222222" stroke="#fff" stroke-width="3" paint-order="stroke" stroke-linejoin="round">Dixie Park</text>
<text transform="translate(783.4,515.9) scale(0.8135,1)" font-size="15" text-anchor="start" font-weight="normal" fill="#222222" stroke="#222222" stroke-width="0.5">Dixie Park</text>
<text transform="translate(766.2,544.4) scale(0.8054,1)" font-size="15" text-anchor="start" font-weight="normal" fill="#222222" stroke="#fff" stroke-width="3" paint-order="stroke" stroke-linejoin="round">Tomken</text>
<text transform="translate(766.2,544.4) scale(0.8054,1)" font-size="15" text-anchor="start" font-weight="normal" fill="#222222" stroke="#222222" stroke-width="0.5">Tomken</text>
<text transform="translate(734.6,573.5) scale(0.8039,1)" font-size="15" text-anchor="start" font-weight="normal" fill="#222222" stroke="#fff" stroke-width="3" paint-order="stroke" stroke-linejoin="round">Cawthra</text>
<text transform="translate(734.6,573.5) scale(0.8039,1)" font-size="15" text-anchor="start" font-weight="normal" fill="#222222" stroke="#222222" stroke-width="0.5">Cawthra</text>
<text transform="translate(778,638.9) scale(0.7784,1)" font-size="15" text-anchor="start" font-weight="normal" fill="#222222" stroke="#fff" stroke-width="3" paint-order="stroke" stroke-linejoin="round">Central Park East</text>
<text transform="translate(778,638.9) scale(0.7784,1)" font-size="15" text-anchor="start" font-weight="normal" fill="#222222" stroke="#222222" stroke-width="0.5">Central Park East</text>
<text transform="translate(994.7,357) scale(0.8170,1)" font-size="15" text-anchor="middle" font-weight="normal" fill="#222222" stroke="#fff" stroke-width="3" paint-order="stroke" stroke-linejoin="round">Renforth</text>
<text transform="translate(994.7,357) scale(0.8170,1)" font-size="15" text-anchor="middle" font-weight="normal" fill="#222222" stroke="#222222" stroke-width="0.5">Renforth</text>
<text transform="translate(994.7,371) scale(0.7839,1)" font-size="15" text-anchor="middle" font-weight="normal" fill="#222222" stroke="#fff" stroke-width="3" paint-order="stroke" stroke-linejoin="round">Gateway</text>
<text transform="translate(994.7,371) scale(0.7839,1)" font-size="15" text-anchor="middle" font-weight="normal" fill="#222222" stroke="#222222" stroke-width="0.5">Gateway</text>
<text transform="translate(1068.9,290.5) scale(0.8567,1)" font-size="15" text-anchor="middle" font-weight="normal" fill="#222222" stroke="#fff" stroke-width="3" paint-order="stroke" stroke-linejoin="round">Martin</text>
<text transform="translate(1068.9,290.5) scale(0.8567,1)" font-size="15" text-anchor="middle" font-weight="normal" fill="#222222" stroke="#222222" stroke-width="0.5">Martin</text>
<text transform="translate(1068.9,304.3) scale(0.7663,1)" font-size="15" text-anchor="middle" font-weight="normal" fill="#222222" stroke="#fff" stroke-width="3" paint-order="stroke" stroke-linejoin="round">Grove</text>
<text transform="translate(1068.9,304.3) scale(0.7663,1)" font-size="15" text-anchor="middle" font-weight="normal" fill="#222222" stroke="#222222" stroke-width="0.5">Grove</text>
<text transform="translate(1158,304.3) scale(0.8015,1)" font-size="15" text-anchor="middle" font-weight="normal" fill="#222222" stroke="#fff" stroke-width="3" paint-order="stroke" stroke-linejoin="round">Richview</text>
<text transform="translate(1158,304.3) scale(0.8015,1)" font-size="15" text-anchor="middle" font-weight="normal" fill="#222222" stroke="#222222" stroke-width="0.5">Richview</text>
<text transform="translate(1246.8,304.3) scale(0.8043,1)" font-size="15" text-anchor="middle" font-weight="normal" fill="#222222" stroke="#fff" stroke-width="3" paint-order="stroke" stroke-linejoin="round">Scarlett</text>
<text transform="translate(1246.8,304.3) scale(0.8043,1)" font-size="15" text-anchor="middle" font-weight="normal" fill="#222222" stroke="#222222" stroke-width="0.5">Scarlett</text>
<text transform="translate(1113.3,357.2) scale(0.8341,1)" font-size="15" text-anchor="middle" font-weight="normal" fill="#222222" stroke="#fff" stroke-width="3" paint-order="stroke" stroke-linejoin="round">Denfield</text>
<text transform="translate(1113.3,357.2) scale(0.8341,1)" font-size="15" text-anchor="middle" font-weight="normal" fill="#222222" stroke="#222222" stroke-width="0.5">Denfield</text>
<text transform="translate(1113.3,371) scale(0.7814,1)" font-size="15" text-anchor="middle" font-weight="normal" fill="#222222" stroke="#fff" stroke-width="3" paint-order="stroke" stroke-linejoin="round">Park</text>
<text transform="translate(1113.3,371) scale(0.7814,1)" font-size="15" text-anchor="middle" font-weight="normal" fill="#222222" stroke="#222222" stroke-width="0.5">Park</text>
<text transform="translate(1202.4,357.2) scale(0.7809,1)" font-size="15" text-anchor="middle" font-weight="normal" fill="#222222" stroke="#fff" stroke-width="3" paint-order="stroke" stroke-linejoin="round">Royal York</text>
<text transform="translate(1202.4,357.2) scale(0.7809,1)" font-size="15" text-anchor="middle" font-weight="normal" fill="#222222" stroke="#222222" stroke-width="0.5">Royal York</text>
<text transform="translate(1202.4,371) scale(0.7875,1)" font-size="15" text-anchor="middle" font-weight="normal" fill="#222222" stroke="#fff" stroke-width="3" paint-order="stroke" stroke-linejoin="round">Gardens</text>
<text transform="translate(1202.4,371) scale(0.7875,1)" font-size="15" text-anchor="middle" font-weight="normal" fill="#222222" stroke="#222222" stroke-width="0.5">Gardens</text>
<text transform="translate(1134,555.8) scale(0.8574,1)" font-size="15" text-anchor="start" font-weight="normal" fill="#222222" stroke="#fff" stroke-width="3" paint-order="stroke" stroke-linejoin="round">Islington</text>
<text transform="translate(1134,555.8) scale(0.8574,1)" font-size="15" text-anchor="start" font-weight="normal" fill="#222222" stroke="#222222" stroke-width="0.5">Islington</text>
<text transform="translate(1225.7,555.8) scale(0.8520,1)" font-size="15" text-anchor="start" font-weight="normal" fill="#222222" stroke="#fff" stroke-width="3" paint-order="stroke" stroke-linejoin="round">Old Mill</text>
<text transform="translate(1225.7,555.8) scale(0.8520,1)" font-size="15" text-anchor="start" font-weight="normal" fill="#222222" stroke="#222222" stroke-width="0.5">Old Mill</text>
<text transform="translate(1174.7,609.7) scale(0.7809,1)" font-size="15" text-anchor="start" font-weight="normal" fill="#222222" stroke="#fff" stroke-width="3" paint-order="stroke" stroke-linejoin="round">Royal York</text>
<text transform="translate(1174.7,609.7) scale(0.7809,1)" font-size="15" text-anchor="start" font-weight="normal" fill="#222222" stroke="#222222" stroke-width="0.5">Royal York</text>
<text transform="translate(1125.3,650.1) scale(0.7916,1)" font-size="15" text-anchor="start" font-weight="normal" fill="#222222" stroke="#fff" stroke-width="3" paint-order="stroke" stroke-linejoin="round">Etobicoke Gateway</text>
<text transform="translate(1125.3,650.1) scale(0.7916,1)" font-size="15" text-anchor="start" font-weight="normal" fill="#222222" stroke="#222222" stroke-width="0.5">Etobicoke Gateway</text>
<text transform="translate(1090.7,722.7) scale(0.7895,1)" font-size="15" text-anchor="start" font-weight="normal" fill="#222222" stroke="#fff" stroke-width="3" paint-order="stroke" stroke-linejoin="round">East Mall</text>
<text transform="translate(1090.7,722.7) scale(0.7895,1)" font-size="15" text-anchor="start" font-weight="normal" fill="#222222" stroke="#222222" stroke-width="0.5">East Mall</text>
<text transform="translate(1166,736) scale(0.8550,1)" font-size="15" text-anchor="middle" font-weight="normal" fill="#222222" stroke="#fff" stroke-width="3" paint-order="stroke" stroke-linejoin="round">Queen</text>
<text transform="translate(1166,736) scale(0.8550,1)" font-size="15" text-anchor="middle" font-weight="normal" fill="#222222" stroke="#222222" stroke-width="0.5">Queen</text>
<text transform="translate(1166,749.3) scale(0.8550,1)" font-size="15" text-anchor="middle" font-weight="normal" fill="#222222" stroke="#fff" stroke-width="3" paint-order="stroke" stroke-linejoin="round">Elizabeth</text>
<text transform="translate(1166,749.3) scale(0.8550,1)" font-size="15" text-anchor="middle" font-weight="normal" fill="#222222" stroke="#222222" stroke-width="0.5">Elizabeth</text>
<text transform="translate(936.7,750) scale(0.8128,1)" font-size="15" text-anchor="start" font-weight="normal" fill="#222222" stroke="#fff" stroke-width="3" paint-order="stroke" stroke-linejoin="round">Dixie</text>
<text transform="translate(936.7,750) scale(0.8128,1)" font-size="15" text-anchor="start" font-weight="normal" fill="#222222" stroke="#222222" stroke-width="0.5">Dixie</text>
<text transform="translate(1102.5,801.7) scale(0.8550,1)" font-size="15" text-anchor="middle" font-weight="normal" fill="#222222" stroke="#fff" stroke-width="3" paint-order="stroke" stroke-linejoin="round">Kipling</text>
<text transform="translate(1102.5,801.7) scale(0.8550,1)" font-size="15" text-anchor="middle" font-weight="normal" fill="#222222" stroke="#222222" stroke-width="0.5">Kipling</text>
<text transform="translate(1240.8,787) scale(0.8550,1)" font-size="15" text-anchor="start" font-weight="normal" fill="#222222" stroke="#fff" stroke-width="3" paint-order="stroke" stroke-linejoin="round">Grand</text>
<text transform="translate(1240.8,787) scale(0.8550,1)" font-size="15" text-anchor="start" font-weight="normal" fill="#222222" stroke="#222222" stroke-width="0.5">Grand</text>
<text transform="translate(792.9,799.3) scale(0.8178,1)" font-size="15" text-anchor="start" font-weight="normal" fill="#222222" stroke="#fff" stroke-width="3" paint-order="stroke" stroke-linejoin="round">Cooksville</text>
<text transform="translate(792.9,799.3) scale(0.8178,1)" font-size="15" text-anchor="start" font-weight="normal" fill="#222222" stroke="#222222" stroke-width="0.5">Cooksville</text>
<text transform="translate(791,917.3) scale(0.7769,1)" font-size="15" text-anchor="start" font-weight="normal" fill="#222222" stroke="#fff" stroke-width="3" paint-order="stroke" stroke-linejoin="round">Lorne Park</text>
<text transform="translate(791,917.3) scale(0.7769,1)" font-size="15" text-anchor="start" font-weight="normal" fill="#222222" stroke="#222222" stroke-width="0.5">Lorne Park</text>
<text transform="translate(734.6,982.6) scale(0.7941,1)" font-size="15" text-anchor="start" font-weight="normal" fill="#222222" stroke="#fff" stroke-width="3" paint-order="stroke" stroke-linejoin="round">Clarkson</text>
<text transform="translate(734.6,982.6) scale(0.7941,1)" font-size="15" text-anchor="start" font-weight="normal" fill="#222222" stroke="#222222" stroke-width="0.5">Clarkson</text>
<text transform="translate(692.7,1049.4) scale(0.7750,1)" font-size="15" text-anchor="start" font-weight="normal" fill="#222222" stroke="#fff" stroke-width="3" paint-order="stroke" stroke-linejoin="round">Ford</text>
<text transform="translate(692.7,1049.4) scale(0.7750,1)" font-size="15" text-anchor="start" font-weight="normal" fill="#222222" stroke="#222222" stroke-width="0.5">Ford</text>
<text transform="translate(1098.8,853.2) scale(0.8550,1)" font-size="15" text-anchor="middle" font-weight="normal" fill="#222222" stroke="#fff" stroke-width="3" paint-order="stroke" stroke-linejoin="round">New</text>
<text transform="translate(1098.8,853.2) scale(0.8550,1)" font-size="15" text-anchor="middle" font-weight="normal" fill="#222222" stroke="#222222" stroke-width="0.5">New</text>
<text transform="translate(1098.8,867.2) scale(0.8550,1)" font-size="15" text-anchor="middle" font-weight="normal" fill="#222222" stroke="#fff" stroke-width="3" paint-order="stroke" stroke-linejoin="round">Toronto</text>
<text transform="translate(1098.8,867.2) scale(0.8550,1)" font-size="15" text-anchor="middle" font-weight="normal" fill="#222222" stroke="#222222" stroke-width="0.5">Toronto</text>
<text transform="translate(1172.9,867.2) scale(0.8550,1)" font-size="15" text-anchor="middle" font-weight="normal" fill="#222222" stroke="#fff" stroke-width="3" paint-order="stroke" stroke-linejoin="round">Mimico</text>
<text transform="translate(1172.9,867.2) scale(0.8550,1)" font-size="15" text-anchor="middle" font-weight="normal" fill="#222222" stroke="#222222" stroke-width="0.5">Mimico</text>
<text transform="translate(1247.2,853.2) scale(0.7814,1)" font-size="15" text-anchor="middle" font-weight="normal" fill="#222222" stroke="#fff" stroke-width="3" paint-order="stroke" stroke-linejoin="round">Park</text>
<text transform="translate(1247.2,853.2) scale(0.7814,1)" font-size="15" text-anchor="middle" font-weight="normal" fill="#222222" stroke="#222222" stroke-width="0.5">Park</text>
<text transform="translate(1247.2,867.2) scale(0.8550,1)" font-size="15" text-anchor="middle" font-weight="normal" fill="#222222" stroke="#fff" stroke-width="3" paint-order="stroke" stroke-linejoin="round">Lawn</text>
<text transform="translate(1247.2,867.2) scale(0.8550,1)" font-size="15" text-anchor="middle" font-weight="normal" fill="#222222" stroke="#222222" stroke-width="0.5">Lawn</text>
<text transform="translate(315.1,205.1) scale(0.8182,1)" font-size="11.5" text-anchor="start" font-weight="normal" fill="#222222" stroke="#fff" stroke-width="3" paint-order="stroke" stroke-linejoin="round">Queen</text>
<text transform="translate(315.1,205.1) scale(0.8182,1)" font-size="11.5" text-anchor="start" font-weight="normal" fill="#222222" stroke="#222222" stroke-width="0.65">Queen</text>
<text transform="translate(341.1,231.1) scale(0.8387,1)" font-size="11.5" text-anchor="start" font-weight="normal" fill="#222222" stroke="#fff" stroke-width="3" paint-order="stroke" stroke-linejoin="round">Nanwood</text>
<text transform="translate(341.1,231.1) scale(0.8387,1)" font-size="11.5" text-anchor="start" font-weight="normal" fill="#222222" stroke="#222222" stroke-width="0.65">Nanwood</text>
<text transform="translate(367.1,256.8) scale(0.8338,1)" font-size="11.5" text-anchor="start" font-weight="normal" fill="#222222" stroke="#fff" stroke-width="3" paint-order="stroke" stroke-linejoin="round">Charolais</text>
<text transform="translate(367.1,256.8) scale(0.8338,1)" font-size="11.5" text-anchor="start" font-weight="normal" fill="#222222" stroke="#222222" stroke-width="0.65">Charolais</text>
<text transform="translate(393.5,282.8) scale(0.8382,1)" font-size="11.5" text-anchor="start" font-weight="normal" fill="#222222" stroke="#fff" stroke-width="3" paint-order="stroke" stroke-linejoin="round">Brampton Gateway</text>
<text transform="translate(393.5,282.8) scale(0.8382,1)" font-size="11.5" text-anchor="start" font-weight="normal" fill="#222222" stroke="#222222" stroke-width="0.65">Brampton Gateway</text>
<text transform="translate(418.9,308.5) scale(0.8014,1)" font-size="11.5" text-anchor="start" font-weight="normal" fill="#222222" stroke="#fff" stroke-width="3" paint-order="stroke" stroke-linejoin="round">Sir Lou</text>
<text transform="translate(418.9,308.5) scale(0.8014,1)" font-size="11.5" text-anchor="start" font-weight="normal" fill="#222222" stroke="#222222" stroke-width="0.65">Sir Lou</text>
<text transform="translate(445.5,334.5) scale(0.7822,1)" font-size="11.5" text-anchor="start" font-weight="normal" fill="#222222" stroke="#fff" stroke-width="3" paint-order="stroke" stroke-linejoin="round">Ray Lawson</text>
<text transform="translate(445.5,334.5) scale(0.7822,1)" font-size="11.5" text-anchor="start" font-weight="normal" fill="#222222" stroke="#222222" stroke-width="0.65">Ray Lawson</text>
<text transform="translate(524.5,414.5) scale(0.8574,1)" font-size="11.5" text-anchor="start" font-weight="normal" fill="#222222" stroke="#fff" stroke-width="3" paint-order="stroke" stroke-linejoin="round">Derry</text>
<text transform="translate(524.5,414.5) scale(0.8574,1)" font-size="11.5" text-anchor="start" font-weight="normal" fill="#222222" stroke="#222222" stroke-width="0.65">Derry</text>
<text transform="translate(556.5,446.5) scale(0.8634,1)" font-size="11.5" text-anchor="start" font-weight="normal" fill="#222222" stroke="#fff" stroke-width="3" paint-order="stroke" stroke-linejoin="round">Courtneypark</text>
<text transform="translate(556.5,446.5) scale(0.8634,1)" font-size="11.5" text-anchor="start" font-weight="normal" fill="#222222" stroke="#222222" stroke-width="0.65">Courtneypark</text>
<text transform="translate(588.8,478.7) scale(0.8637,1)" font-size="11.5" text-anchor="start" font-weight="normal" fill="#222222" stroke="#fff" stroke-width="3" paint-order="stroke" stroke-linejoin="round">Britannia</text>
<text transform="translate(588.8,478.7) scale(0.8637,1)" font-size="11.5" text-anchor="start" font-weight="normal" fill="#222222" stroke="#222222" stroke-width="0.65">Britannia</text>
<text transform="translate(621,510.2) scale(0.8376,1)" font-size="11.5" text-anchor="start" font-weight="normal" fill="#222222" stroke="#fff" stroke-width="3" paint-order="stroke" stroke-linejoin="round">Matheson</text>
<text transform="translate(621,510.2) scale(0.8376,1)" font-size="11.5" text-anchor="start" font-weight="normal" fill="#222222" stroke="#222222" stroke-width="0.65">Matheson</text>
<text transform="translate(652.4,542) scale(0.8826,1)" font-size="11.5" text-anchor="start" font-weight="normal" fill="#222222" stroke="#fff" stroke-width="3" paint-order="stroke" stroke-linejoin="round">Bristol</text>
<text transform="translate(652.4,542) scale(0.8826,1)" font-size="11.5" text-anchor="start" font-weight="normal" fill="#222222" stroke="#222222" stroke-width="0.65">Bristol</text>
<text transform="translate(686.1,563.7) scale(0.8591,1)" font-size="11.5" text-anchor="start" font-weight="normal" fill="#222222" stroke="#fff" stroke-width="3" paint-order="stroke" stroke-linejoin="round">Eglinton</text>
<text transform="translate(686.1,563.7) scale(0.8591,1)" font-size="11.5" text-anchor="start" font-weight="normal" fill="#222222" stroke="#222222" stroke-width="0.65">Eglinton</text>
<text transform="translate(796.8,686.5) scale(0.8181,1)" font-size="11.5" text-anchor="start" font-weight="normal" fill="#222222" stroke="#fff" stroke-width="3" paint-order="stroke" stroke-linejoin="round">Robert Speck</text>
<text transform="translate(796.8,686.5) scale(0.8181,1)" font-size="11.5" text-anchor="start" font-weight="normal" fill="#222222" stroke="#222222" stroke-width="0.65">Robert Speck</text>
<text transform="translate(819.2,708.9) scale(0.8379,1)" font-size="11.5" text-anchor="start" font-weight="normal" fill="#222222" stroke="#fff" stroke-width="3" paint-order="stroke" stroke-linejoin="round">Matthews Gate</text>
<text transform="translate(819.2,708.9) scale(0.8379,1)" font-size="11.5" text-anchor="start" font-weight="normal" fill="#222222" stroke="#222222" stroke-width="0.65">Matthews Gate</text>
<text transform="translate(841.5,731) scale(0.8239,1)" font-size="11.5" text-anchor="start" font-weight="normal" fill="#222222" stroke="#fff" stroke-width="3" paint-order="stroke" stroke-linejoin="round">Central Park West</text>
<text transform="translate(841.5,731) scale(0.8239,1)" font-size="11.5" text-anchor="start" font-weight="normal" fill="#222222" stroke="#222222" stroke-width="0.65">Central Park West</text>
<text transform="translate(919.3,799.8) scale(0.8300,1)" font-size="11.5" text-anchor="start" font-weight="normal" fill="#222222" stroke="#fff" stroke-width="3" paint-order="stroke" stroke-linejoin="round">Queensway</text>
<text transform="translate(919.3,799.8) scale(0.8300,1)" font-size="11.5" text-anchor="start" font-weight="normal" fill="#222222" stroke="#222222" stroke-width="0.65">Queensway</text>
<text transform="translate(942.4,831.2) scale(0.8642,1)" font-size="11.5" text-anchor="start" font-weight="normal" fill="#222222" stroke="#fff" stroke-width="3" paint-order="stroke" stroke-linejoin="round">Mineola</text>
<text transform="translate(942.4,831.2) scale(0.8642,1)" font-size="11.5" text-anchor="start" font-weight="normal" fill="#222222" stroke="#222222" stroke-width="0.65">Mineola</text>
<text transform="translate(889.8,809.3) scale(0.8301,1)" font-size="11.5" text-anchor="end" font-weight="normal" fill="#222222" stroke="#fff" stroke-width="3" paint-order="stroke" stroke-linejoin="round">Dundas</text>
<text transform="translate(889.8,809.3) scale(0.8301,1)" font-size="11.5" text-anchor="end" font-weight="normal" fill="#222222" stroke="#222222" stroke-width="0.65">Dundas</text>
<text transform="translate(889.8,818.8) scale(0.9019,1)" font-size="8" text-anchor="end" font-weight="normal" fill="#222222" stroke="#fff" stroke-width="3" paint-order="stroke" stroke-linejoin="round">&amp; Hurontario</text>
<text transform="translate(889.8,818.8) scale(0.9019,1)" font-size="8" text-anchor="end" font-weight="normal" fill="#222222" stroke="#222222" stroke-width="0.3">&amp; Hurontario</text>
<text transform="translate(919.3,809.3) scale(0.9019,1)" font-size="8" text-anchor="start" font-weight="normal" fill="#222222" stroke="#fff" stroke-width="3" paint-order="stroke" stroke-linejoin="round">&amp; Hurontario</text>
<text transform="translate(919.3,809.3) scale(0.9019,1)" font-size="8" text-anchor="start" font-weight="normal" fill="#222222" stroke="#222222" stroke-width="0.3">&amp; Hurontario</text>
<text transform="translate(686.1,574.2) scale(0.9019,1)" font-size="8" text-anchor="start" font-weight="normal" fill="#222222" stroke="#fff" stroke-width="3" paint-order="stroke" stroke-linejoin="round">&amp; Hurontario</text>
<text transform="translate(686.1,574.2) scale(0.9019,1)" font-size="8" text-anchor="start" font-weight="normal" fill="#222222" stroke="#222222" stroke-width="0.3">&amp; Hurontario</text>
<text transform="translate(164.5,142.5) scale(0.7987,1)" font-size="14" text-anchor="middle" font-weight="normal" fill="#222222" stroke="#fff" stroke-width="3" paint-order="stroke" stroke-linejoin="round">BOVAIRD</text>
<text transform="translate(164.5,142.5) scale(0.7987,1)" font-size="14" text-anchor="middle" font-weight="normal" fill="#222222" stroke="#222222" stroke-width="0.3">BOVAIRD</text>
<text transform="translate(283.2,128.8) scale(0.7878,1)" font-size="14" text-anchor="middle" font-weight="normal" fill="#222222" stroke="#fff" stroke-width="3" paint-order="stroke" stroke-linejoin="round">BRAMPTON</text>
<text transform="translate(283.2,128.8) scale(0.7878,1)" font-size="14" text-anchor="middle" font-weight="normal" fill="#222222" stroke="#222222" stroke-width="0.3">BRAMPTON</text>
<text transform="translate(283.2,142.5) scale(0.7123,1)" font-size="14" text-anchor="middle" font-weight="normal" fill="#222222" stroke="#fff" stroke-width="3" paint-order="stroke" stroke-linejoin="round">CENTRE</text>
<text transform="translate(283.2,142.5) scale(0.7123,1)" font-size="14" text-anchor="middle" font-weight="normal" fill="#222222" stroke="#222222" stroke-width="0.3">CENTRE</text>
<text transform="translate(609.7,112.8) scale(0.7987,1)" font-size="14" text-anchor="middle" font-weight="normal" fill="#222222" stroke="#fff" stroke-width="3" paint-order="stroke" stroke-linejoin="round">BRAMALEA</text>
<text transform="translate(609.7,112.8) scale(0.7987,1)" font-size="14" text-anchor="middle" font-weight="normal" fill="#222222" stroke="#222222" stroke-width="0.3">BRAMALEA</text>
<text transform="translate(861.5,69) scale(0.7595,1)" font-size="14" text-anchor="middle" font-weight="normal" fill="#222222" stroke="#fff" stroke-width="3" paint-order="stroke" stroke-linejoin="round">PEARSON</text>
<text transform="translate(861.5,69) scale(0.7595,1)" font-size="14" text-anchor="middle" font-weight="normal" fill="#222222" stroke="#222222" stroke-width="0.3">PEARSON</text>
<text transform="translate(861.5,82.5) scale(0.7437,1)" font-size="14" text-anchor="middle" font-weight="normal" fill="#222222" stroke="#fff" stroke-width="3" paint-order="stroke" stroke-linejoin="round">CENTRAL</text>
<text transform="translate(861.5,82.5) scale(0.7437,1)" font-size="14" text-anchor="middle" font-weight="normal" fill="#222222" stroke="#222222" stroke-width="0.3">CENTRAL</text>
<text transform="translate(263.5,549) scale(0.7614,1)" font-size="14" text-anchor="end" font-weight="normal" fill="#222222" stroke="#fff" stroke-width="3" paint-order="stroke" stroke-linejoin="round">LISGAR</text>
<text transform="translate(263.5,549) scale(0.7614,1)" font-size="14" text-anchor="end" font-weight="normal" fill="#222222" stroke="#222222" stroke-width="0.3">LISGAR</text>
<text transform="translate(99.9,712.3) scale(0.8024,1)" font-size="14" text-anchor="end" font-weight="normal" fill="#222222" stroke="#fff" stroke-width="3" paint-order="stroke" stroke-linejoin="round">MILTON</text>
<text transform="translate(99.9,712.3) scale(0.8024,1)" font-size="14" text-anchor="end" font-weight="normal" fill="#222222" stroke="#222222" stroke-width="0.3">MILTON</text>
<text transform="translate(163,842.9) scale(0.7950,1)" font-size="14" text-anchor="start" font-weight="normal" fill="#222222" stroke="#fff" stroke-width="3" paint-order="stroke" stroke-linejoin="round">WILLMOTT</text>
<text transform="translate(163,842.9) scale(0.7950,1)" font-size="14" text-anchor="start" font-weight="normal" fill="#222222" stroke="#222222" stroke-width="0.3">WILLMOTT</text>
<text transform="translate(429.9,896.4) scale(0.7791,1)" font-size="14" text-anchor="end" font-weight="normal" fill="#222222" stroke="#fff" stroke-width="3" paint-order="stroke" stroke-linejoin="round">OAKVILLE GATEWAY</text>
<text transform="translate(429.9,896.4) scale(0.7791,1)" font-size="14" text-anchor="end" font-weight="normal" fill="#222222" stroke="#222222" stroke-width="0.3">OAKVILLE GATEWAY</text>
<text transform="translate(690,640.5) scale(0.7837,1)" font-size="14" text-anchor="end" font-weight="normal" fill="#222222" stroke="#fff" stroke-width="3" paint-order="stroke" stroke-linejoin="round">MISSISSAUGA</text>
<text transform="translate(690,640.5) scale(0.7837,1)" font-size="14" text-anchor="end" font-weight="normal" fill="#222222" stroke="#222222" stroke-width="0.3">MISSISSAUGA</text>
<text transform="translate(690,654) scale(0.7123,1)" font-size="14" text-anchor="end" font-weight="normal" fill="#222222" stroke="#fff" stroke-width="3" paint-order="stroke" stroke-linejoin="round">CENTRE</text>
<text transform="translate(690,654) scale(0.7123,1)" font-size="14" text-anchor="end" font-weight="normal" fill="#222222" stroke="#222222" stroke-width="0.3">CENTRE</text>
<text transform="translate(666,782.2) scale(0.7569,1)" font-size="14" text-anchor="start" font-weight="normal" fill="#222222" stroke="#fff" stroke-width="3" paint-order="stroke" stroke-linejoin="round">ERINDALE</text>
<text transform="translate(666,782.2) scale(0.7569,1)" font-size="14" text-anchor="start" font-weight="normal" fill="#222222" stroke="#222222" stroke-width="0.3">ERINDALE</text>
<text transform="translate(1020.5,729.4) scale(0.7698,1)" font-size="14" text-anchor="end" font-weight="normal" fill="#222222" stroke="#fff" stroke-width="3" paint-order="stroke" stroke-linejoin="round">SHERWAY</text>
<text transform="translate(1020.5,729.4) scale(0.7698,1)" font-size="14" text-anchor="end" font-weight="normal" fill="#222222" stroke="#222222" stroke-width="0.3">SHERWAY</text>
<text transform="translate(867,866.9) scale(0.7448,1)" font-size="14" text-anchor="start" font-weight="normal" fill="#222222" stroke="#fff" stroke-width="3" paint-order="stroke" stroke-linejoin="round">PORT CREDIT</text>
<text transform="translate(867,866.9) scale(0.7448,1)" font-size="14" text-anchor="start" font-weight="normal" fill="#222222" stroke="#222222" stroke-width="0.3">PORT CREDIT</text>
<text transform="translate(1024.5,853.2) scale(0.7713,1)" font-size="14" text-anchor="middle" font-weight="normal" fill="#222222" stroke="#fff" stroke-width="3" paint-order="stroke" stroke-linejoin="round">LONG</text>
<text transform="translate(1024.5,853.2) scale(0.7713,1)" font-size="14" text-anchor="middle" font-weight="normal" fill="#222222" stroke="#222222" stroke-width="0.3">LONG</text>
<text transform="translate(1024.5,867.2) scale(0.8001,1)" font-size="14" text-anchor="middle" font-weight="normal" fill="#222222" stroke="#fff" stroke-width="3" paint-order="stroke" stroke-linejoin="round">BRANCH</text>
<text transform="translate(1024.5,867.2) scale(0.8001,1)" font-size="14" text-anchor="middle" font-weight="normal" fill="#222222" stroke="#222222" stroke-width="0.3">BRANCH</text>
<text transform="translate(1082,22) rotate(-45) scale(0.86,1)" font-size="13.5" fill="#222222" stroke="#222222" stroke-width="0.5">Islington</text>
<text transform="translate(1125,19.5) rotate(-45) scale(0.86,1)" font-size="13.5" fill="#222222" stroke="#222222" stroke-width="0.5">Duncan Mill</text>
<text transform="translate(1119.5,5.5) rotate(-45) scale(0.86,1)" font-size="13.5" fill="#222222" stroke="#222222" stroke-width="0.5">Parkway</text>
<text transform="translate(1246,3) rotate(-45) scale(0.86,1)" font-size="13.5" fill="#222222" stroke="#222222" stroke-width="0.5">Highway 7</text>
<rect x="147" y="70" width="35.5" height="25.5" rx="6" fill="#6dbb45"/>
<text transform="translate(164.75,90.35) scale(0.9,1)" font-size="21" font-weight="bold" text-anchor="middle" fill="#fff" stroke="#333" stroke-width="1.4" paint-order="stroke">E8</text>
<rect x="127.5" y="99.5" width="35" height="25.5" rx="6" fill="#aadbd2"/>
<text transform="translate(145,119.85) scale(0.76,1)" font-size="21" text-anchor="middle" fill="#2a2a2a" stroke="#2a2a2a" stroke-width="0.4">R81</text>
<rect x="167.7" y="100.4" width="33.4" height="23.7" rx="6" fill="#fff" stroke="#cf8a44" stroke-width="1.8"/>
<text transform="translate(184.4,119.85) scale(0.9,1)" font-size="21" font-weight="bold" text-anchor="middle" fill="#cf8a44" stroke="#333" stroke-width="1.4" paint-order="stroke">R8</text>
<rect x="265.5" y="55.5" width="35.3" height="25.5" rx="6" fill="#9b4196"/>
<text transform="translate(283.15,75.85) scale(0.9,1)" font-size="21" font-weight="bold" text-anchor="middle" fill="#fff" stroke="#333" stroke-width="1.4" paint-order="stroke">L5</text>
<rect x="246.9" y="86.4" width="33.2" height="23.7" rx="6" fill="#fff" stroke="#6dbb45" stroke-width="1.8"/>
<text transform="translate(263.5,105.85) scale(0.9,1)" font-size="21" font-weight="bold" text-anchor="middle" fill="#6dbb45" stroke="#333" stroke-width="1.4" paint-order="stroke">E8</text>
<rect x="285.9" y="86.4" width="32.7" height="23.7" rx="6" fill="#fff" stroke="#cf8a44" stroke-width="1.8"/>
<text transform="translate(302.25,105.85) scale(0.9,1)" font-size="21" font-weight="bold" text-anchor="middle" fill="#cf8a44" stroke="#333" stroke-width="1.4" paint-order="stroke">R8</text>
<rect x="572.5" y="70.4" width="34.4" height="25.5" rx="6" fill="#6dbb45"/>
<text transform="translate(589.7,90.75) scale(0.77,1)" font-size="21" font-weight="bold" text-anchor="middle" fill="#fff" stroke="#333" stroke-width="1.4" paint-order="stroke">E80</text>
<rect x="613.5" y="71.3" width="32.3" height="23.7" rx="6" fill="#fff" stroke="#6dbb45" stroke-width="1.8"/>
<text transform="translate(629.65,90.75) scale(0.9,1)" font-size="21" font-weight="bold" text-anchor="middle" fill="#6dbb45" stroke="#333" stroke-width="1.4" paint-order="stroke">E8</text>
<rect x="805" y="-1.5" width="34" height="25.3" rx="6" fill="#0a66a2"/>
<text transform="translate(822,18.75) scale(0.9,1)" font-size="21" font-weight="bold" text-anchor="middle" fill="#fff" stroke="#333" stroke-width="1.4" paint-order="stroke">L6</text>
<rect x="844.4" y="-0.6" width="32.7" height="23.5" rx="6" fill="#fff" stroke="#6dbb45" stroke-width="1.8"/>
<text transform="translate(860.75,18.75) scale(0.9,1)" font-size="21" font-weight="bold" text-anchor="middle" fill="#6dbb45" stroke="#333" stroke-width="1.4" paint-order="stroke">E6</text>
<rect x="884.5" y="-0.6" width="33" height="23.5" rx="6" fill="#fff" stroke="#6dbb45" stroke-width="1.8"/>
<text transform="translate(901,18.75) scale(0.9,1)" font-size="21" font-weight="bold" text-anchor="middle" fill="#6dbb45" stroke="#333" stroke-width="1.4" paint-order="stroke">E8</text>
<rect x="805.9" y="29.1" width="32.2" height="24" rx="6" fill="#fff" stroke="#6dbb45" stroke-width="1.8"/>
<text transform="translate(822,48.7) scale(0.77,1)" font-size="21" font-weight="bold" text-anchor="middle" fill="#6dbb45" stroke="#333" stroke-width="1.4" paint-order="stroke">E80</text>
<rect x="844.4" y="29.1" width="32.7" height="24" rx="6" fill="#fff" stroke="#0aa0dc" stroke-width="1.8"/>
<text transform="translate(860.75,48.7) scale(0.9,1)" font-size="21" font-weight="bold" text-anchor="middle" fill="#0aa0dc" stroke="#333" stroke-width="1.4" paint-order="stroke">L3</text>
<rect x="884.5" y="29.1" width="33" height="24" rx="6" fill="#fff" stroke="#cf8a44" stroke-width="1.8"/>
<text transform="translate(901,48.7) scale(0.9,1)" font-size="21" font-weight="bold" text-anchor="middle" fill="#cf8a44" stroke="#333" stroke-width="1.4" paint-order="stroke">R8</text>
<rect x="149.4" y="508" width="35.1" height="25.8" rx="6" fill="#85a880"/>
<text transform="translate(166.95,528.5) scale(0.9,1)" font-size="21" font-weight="bold" text-anchor="middle" fill="#fff" stroke="#333" stroke-width="1.4" paint-order="stroke">M1</text>
<rect x="190.4" y="508.9" width="32.4" height="24" rx="6" fill="#fff" stroke="#6dbb45" stroke-width="1.8"/>
<text transform="translate(206.6,528.5) scale(0.9,1)" font-size="21" font-weight="bold" text-anchor="middle" fill="#6dbb45" stroke="#333" stroke-width="1.4" paint-order="stroke">E6</text>
<rect x="229.4" y="508.9" width="32.7" height="24" rx="6" fill="#fff" stroke="#e57fb2" stroke-width="1.8"/>
<text transform="translate(245.75,528.5) scale(0.9,1)" font-size="21" font-weight="bold" text-anchor="middle" fill="#e57fb2" stroke="#333" stroke-width="1.4" paint-order="stroke">E9</text>
<rect x="26.1" y="671.5" width="34.5" height="25.7" rx="6" fill="#aadbd2"/>
<text transform="translate(43.35,691.95) scale(0.88,1)" font-size="21" text-anchor="middle" fill="#2a2a2a" stroke="#2a2a2a" stroke-width="0.4">R6</text>
<rect x="66.1" y="672.4" width="33.3" height="23.9" rx="6" fill="#fff" stroke="#6dbb45" stroke-width="1.8"/>
<text transform="translate(82.75,691.95) scale(0.9,1)" font-size="21" font-weight="bold" text-anchor="middle" fill="#6dbb45" stroke="#333" stroke-width="1.4" paint-order="stroke">E6</text>
<rect x="132.7" y="851.2" width="34.5" height="25.1" rx="6" fill="#6dbb45"/>
<text transform="translate(149.95,871.35) scale(0.9,1)" font-size="21" font-weight="bold" text-anchor="middle" fill="#fff" stroke="#333" stroke-width="1.4" paint-order="stroke">E6</text>
<rect x="315.5" y="856.1" width="35.8" height="26.2" rx="6" fill="#c09ecf"/>
<text transform="translate(333.4,876.8) scale(0.9,1)" font-size="21" font-weight="bold" text-anchor="middle" fill="#fff" stroke="#333" stroke-width="1.4" paint-order="stroke">M2</text>
<rect x="356.7" y="857" width="32.4" height="24.4" rx="6" fill="#fff" stroke="#e57fb2" stroke-width="1.8"/>
<text transform="translate(372.9,876.8) scale(0.9,1)" font-size="21" font-weight="bold" text-anchor="middle" fill="#e57fb2" stroke="#333" stroke-width="1.4" paint-order="stroke">E9</text>
<rect x="395.5" y="857" width="33.5" height="24.4" rx="6" fill="#fff" stroke="#5c5425" stroke-width="1.8"/>
<text transform="translate(412.25,876.8) scale(0.9,1)" font-size="21" font-weight="bold" text-anchor="middle" fill="#5c5425" stroke="#333" stroke-width="1.4" paint-order="stroke">A2</text>
<rect x="585.6" y="570.3" width="34.8" height="25.1" rx="6" fill="#0aa0dc"/>
<text transform="translate(603,590.45) scale(0.9,1)" font-size="21" font-weight="bold" text-anchor="middle" fill="#fff" stroke="#333" stroke-width="1.4" paint-order="stroke">L3</text>
<rect x="625" y="570.3" width="35.2" height="25.1" rx="6" fill="#b07422"/>
<text transform="translate(642.6,590.45) scale(0.9,1)" font-size="21" font-weight="bold" text-anchor="middle" fill="#fff" stroke="#333" stroke-width="1.4" paint-order="stroke">L4</text>
<rect x="567" y="600.6" width="32.7" height="23.3" rx="6" fill="#fff" stroke="#85a880" stroke-width="1.8"/>
<text transform="translate(583.35,619.85) scale(0.9,1)" font-size="21" font-weight="bold" text-anchor="middle" fill="#85a880" stroke="#333" stroke-width="1.4" paint-order="stroke">M1</text>
<rect x="606.2" y="600.6" width="32.7" height="23.3" rx="6" fill="#fff" stroke="#c09ecf" stroke-width="1.8"/>
<text transform="translate(622.55,619.85) scale(0.9,1)" font-size="21" font-weight="bold" text-anchor="middle" fill="#c09ecf" stroke="#333" stroke-width="1.4" paint-order="stroke">M2</text>
<rect x="645.4" y="600.6" width="32.7" height="23.3" rx="6" fill="#fff" stroke="#9b4196" stroke-width="1.8"/>
<text transform="translate(661.75,619.85) scale(0.9,1)" font-size="21" font-weight="bold" text-anchor="middle" fill="#9b4196" stroke="#333" stroke-width="1.4" paint-order="stroke">L5</text>
<rect x="666" y="787.9" width="34.8" height="25.6" rx="6" fill="#c09ecf"/>
<text transform="translate(683.4,808.3) scale(0.9,1)" font-size="21" font-weight="bold" text-anchor="middle" fill="#fff" stroke="#333" stroke-width="1.4" paint-order="stroke">M2</text>
<rect x="945.8" y="658.9" width="35.4" height="25.8" rx="6" fill="#f5c235"/>
<text transform="translate(963.5,679.4) scale(0.9,1)" font-size="21" font-weight="bold" text-anchor="middle" fill="#2a2a2a" stroke="#fff" stroke-width="1.4" paint-order="stroke">S1</text>
<rect x="985.2" y="658.9" width="35.3" height="25.8" rx="6" fill="#05964a"/>
<text transform="translate(1002.85,679.4) scale(0.9,1)" font-size="21" font-weight="bold" text-anchor="middle" fill="#fff" stroke="#333" stroke-width="1.4" paint-order="stroke">S2</text>
<rect x="946.7" y="689.9" width="33.6" height="23.4" rx="6" fill="#fff" stroke="#85a880" stroke-width="1.8"/>
<text transform="translate(963.5,709.2) scale(0.9,1)" font-size="21" font-weight="bold" text-anchor="middle" fill="#85a880" stroke="#333" stroke-width="1.4" paint-order="stroke">M1</text>
<rect x="986.1" y="689.9" width="33.5" height="23.4" rx="6" fill="#fff" stroke="#c09ecf" stroke-width="1.8"/>
<text transform="translate(1002.85,709.2) scale(0.9,1)" font-size="21" font-weight="bold" text-anchor="middle" fill="#c09ecf" stroke="#333" stroke-width="1.4" paint-order="stroke">M2</text>
<rect x="786.6" y="849.8" width="34.2" height="26" rx="6" fill="#9b4196"/>
<text transform="translate(803.7,870.4) scale(0.9,1)" font-size="21" font-weight="bold" text-anchor="middle" fill="#fff" stroke="#333" stroke-width="1.4" paint-order="stroke">L5</text>
<rect x="826.5" y="850.7" width="33.3" height="24.2" rx="6" fill="#fff" stroke="#80100f" stroke-width="1.8"/>
<text transform="translate(843.15,870.4) scale(0.77,1)" font-size="21" font-weight="bold" text-anchor="middle" fill="#80100f" stroke="#333" stroke-width="1.4" paint-order="stroke">E20</text>
<rect x="574.4" y="1043.7" width="35" height="25.3" rx="6" fill="#80100f"/>
<text transform="translate(591.9,1063.95) scale(0.77,1)" font-size="21" font-weight="bold" text-anchor="middle" fill="#fff" stroke="#333" stroke-width="1.4" paint-order="stroke">E20</text>
<rect x="615.4" y="1044.6" width="32.1" height="23.5" rx="6" fill="#fff" stroke="#80100f" stroke-width="1.8"/>
<text transform="translate(631.45,1063.95) scale(0.9,1)" font-size="21" font-weight="bold" text-anchor="middle" fill="#80100f" stroke="#333" stroke-width="1.4" paint-order="stroke">E2</text>
<rect x="1273.6" y="615" width="30" height="26.3" rx="6.5" fill="#d5dc3b"/>
<text transform="translate(1277,162) scale(0.8550,1)" font-size="15" text-anchor="start" font-weight="normal" fill="#222222" stroke="#fff" stroke-width="3" paint-order="stroke" stroke-linejoin="round">W</text>
<text transform="translate(1277,162) scale(0.8550,1)" font-size="15" text-anchor="start" font-weight="normal" fill="#222222" stroke="#222222" stroke-width="0.5">W</text>
<path d="M1276.5,608.6 L1283,612.5" stroke="#222222" stroke-width="2.2"/>
<rect x="0" y="1029" width="1280" height="24" fill="url(#bg)"/>
</svg>
</body></html>
